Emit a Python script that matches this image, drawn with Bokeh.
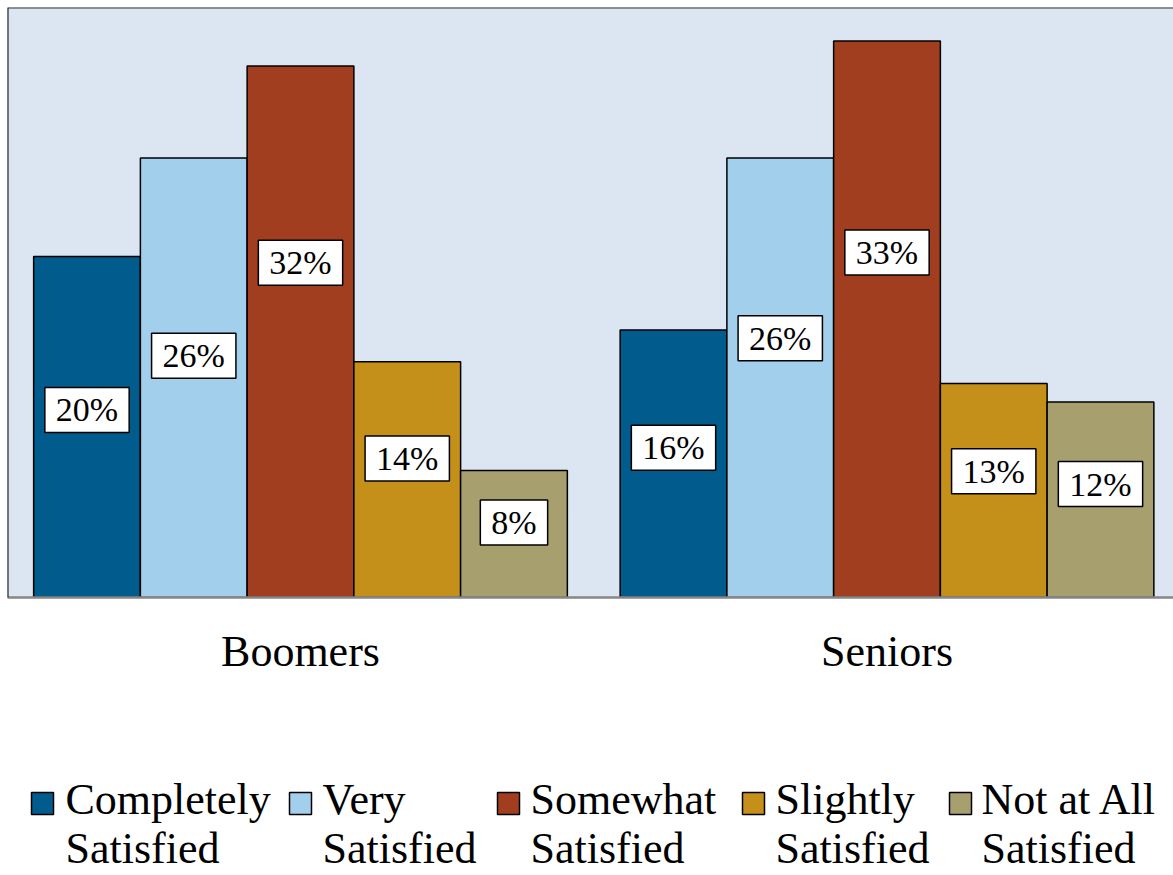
from bokeh.plotting import figure
from bokeh.models import Range1d, Span, FixedTicker, ColumnDataSource
from bokeh.layouts import column
from bokeh.core.properties import value
from bokeh.embed import file_html
from bokeh.resources import INLINE

# ---------------- data ----------------
groups = ["Boomers", "Seniors"]
levels = ["Completely\nSatisfied", "Very\nSatisfied", "Somewhat\nSatisfied",
          "Slightly\nSatisfied", "Not at All\nSatisfied"]
boomers = [20.4, 26.3, 31.8, 14.1, 7.6]
seniors = [16.0, 26.3, 33.3, 12.8, 11.7]
boomer_labels = ["20%", "26%", "32%", "14%", "8%"]
senior_labels = ["16%", "26%", "33%", "13%", "12%"]
colors = ["#015B8D", "#A2CFEC", "#A23E20", "#C5901A", "#A89F6F"]

# ---------------- layout ----------------
FONT = value("Liberation Serif")
BW = 0.182                      # bar width in group units
PX_PER_UNIT = 586.5
W = 1173
FRAME_L = 7
FRAME_W = W - FRAME_L
X0 = -(300 - FRAME_L) / PX_PER_UNIT
Y_END = 35.3
label_frac_b = [0.55, 0.55, 0.63, 0.59, 0.59]
label_frac_s = [0.56, 0.59, 0.62, 0.59, 0.58]

xs, tops, cols, lab, laby = [], [], [], [], []
for gi, (vals, labs, fr) in enumerate([(boomers, boomer_labels, label_frac_b),
                                       (seniors, senior_labels, label_frac_s)]):
    for li in range(len(levels)):
        xs.append(gi + (li - 2) * BW)
        tops.append(vals[li])
        cols.append(colors[li])
        lab.append(labs[li])
        laby.append(vals[li] * fr[li])

src = ColumnDataSource(dict(x=xs, top=tops, color=cols, label=lab, ly=laby))

MAIN_H = 710
p = figure(width=W, height=MAIN_H, output_backend="svg", toolbar_location=None,
           x_range=Range1d(X0, X0 + FRAME_W / PX_PER_UNIT), y_range=Range1d(0, Y_END),
           y_axis_location=None, min_border_left=FRAME_L, min_border_right=0,
           min_border_top=7, min_border_bottom=MAIN_H - 7 - 590)
p.background_fill_color = "#DCE6F2"
p.border_fill_color = "white"
p.outline_line_color = None
p.xgrid.visible = False
p.ygrid.visible = False

p.vbar(x="x", top="top", bottom=0, width=BW, source=src, fill_color="color",
       line_color="black", line_width=1.5)

p.text(x="x", y="ly", text="label", source=src, text_align="center",
       text_baseline="middle", text_font=FONT, text_font_size="34px",
       text_color="black", background_fill_color="white",
       border_line_color="black", border_line_width=1.5,
       padding=dict(top=4, right=11, bottom=4, left=11))

p.add_layout(Span(location=X0, dimension="height", line_color="black", line_width=2))
p.add_layout(Span(location=Y_END, dimension="width", line_color="#333333", line_width=2))

ax = p.xaxis[0]
ax.ticker = FixedTicker(ticks=[0, 1])
ax.major_label_overrides = {0: groups[0], 1: groups[1]}
ax.major_label_text_font = "Liberation Serif"
ax.major_label_text_font_size = "44px"
ax.major_label_text_color = "black"
ax.major_label_standoff = 23
ax.major_tick_line_color = None
ax.minor_tick_line_color = None
ax.axis_line_color = "#868686"
ax.axis_line_width = 2.5

# ---------------- legend ----------------
LH = 875 - MAIN_H
lg = figure(width=W, height=LH, output_backend="svg", toolbar_location=None,
            x_range=Range1d(FRAME_L, W), y_range=Range1d(0, LH),
            x_axis_location=None, y_axis_location=None,
            min_border_left=FRAME_L, min_border_right=0, min_border_top=0, min_border_bottom=0)
lg.outline_line_color = None
lg.xgrid.visible = False
lg.ygrid.visible = False
lg.background_fill_color = "white"

sw_x = [42, 300, 508, 753, 960]
tx_x = [65, 322, 530, 775, 981]
TEXT_SHIFT = 16
line1 = [s.split("\n")[0] for s in levels]
line2 = [s.split("\n")[1] for s in levels]
lsrc = ColumnDataSource(dict(sx=sw_x, tx=tx_x, c=colors, l1=line1, l2=line2))
lg.rect(x="sx", y=875 - 803, width=22, height=22, source=lsrc, fill_color="c",
        line_color="black", line_width=1.5)
lg.text(x="tx", y=875 - 815 + TEXT_SHIFT, text="l1", source=lsrc, text_font=FONT,
        text_font_size="44px", text_baseline="alphabetic", text_align="left",
        text_color="black")
lg.text(x="tx", y=875 - 864 + TEXT_SHIFT, text="l2", source=lsrc, text_font=FONT,
        text_font_size="44px", text_baseline="alphabetic", text_align="left",
        text_color="black")

layout = column(p, lg)
open("out.html", "w").write(file_html(layout, INLINE))
